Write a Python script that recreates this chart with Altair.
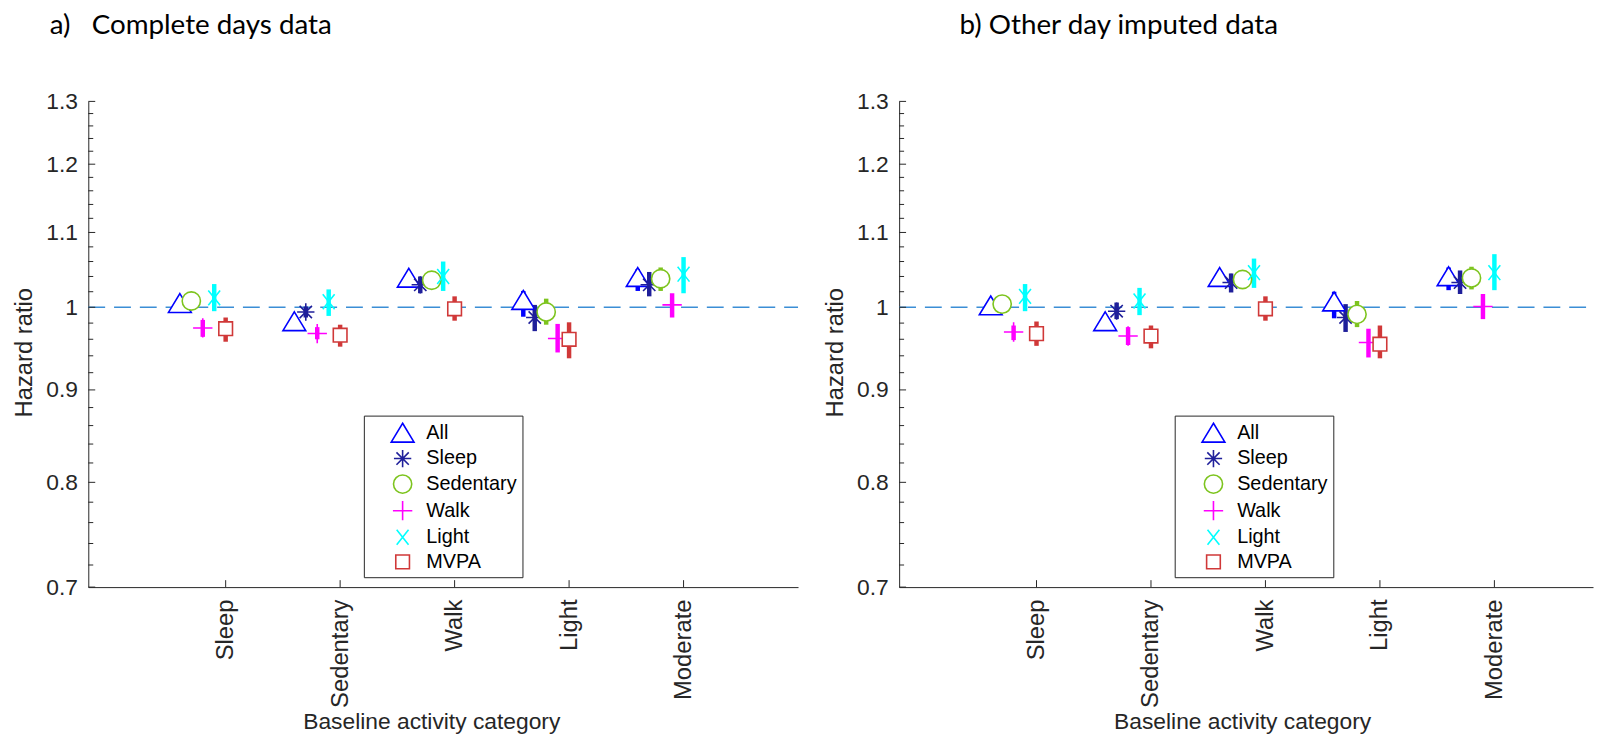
import json
import altair as alt
import pandas as pd

# ---------------- data ----------------
GROUPS = ["Sleep", "Sedentary", "Walk", "Light", "Moderate"]
ACTIVITIES = ["All", "Sleep", "Sedentary", "Walk", "Light", "MVPA"]

# a) Complete days data : hazard ratio and CI per activity for each baseline group
A_HR = {
    "All":       [1.005, 0.982, 1.038, 1.009, 1.039],
    "Sleep":     [None, 0.994, 1.029, 0.987, 1.029],
    "Sedentary": [1.008, None, 1.035, 0.994, 1.037],
    "Walk":      [0.974, 0.967, None, 0.961, 1.003],
    "Light":     [1.012, 1.007, 1.040, None, 1.043],
    "MVPA":      [0.973, 0.965, 0.998, 0.960, None],
}
A_LO = {
    "All":       [0.999, 0.976, 1.032, 0.988, 1.021],
    "Sleep":     [None, 0.987, 1.018, 0.970, 1.014],
    "Sedentary": [1.000, None, 1.027, 0.978, 1.021],
    "Walk":      [0.963, 0.960, None, 0.944, 0.987],
    "Light":     [0.995, 0.989, 1.021, None, 1.018],
    "MVPA":      [0.957, 0.951, 0.983, 0.937, None],
}
A_HI = {
    "All":       [1.011, 0.988, 1.044, 1.021, 1.050],
    "Sleep":     [None, 1.001, 1.040, 1.003, 1.046],
    "Sedentary": [1.016, None, 1.044, 1.011, 1.052],
    "Walk":      [0.984, 0.975, None, 0.979, 1.018],
    "Light":     [1.030, 1.023, 1.060, None, 1.066],
    "MVPA":      [0.987, 0.978, 1.014, 0.981, None],
}

# b) Other day imputed data
B_HR = {
    "All":       [1.002, 0.982, 1.039, 1.007, 1.040],
    "Sleep":     [None, 0.995, 1.032, 0.987, 1.032],
    "Sedentary": [1.004, None, 1.036, 0.991, 1.038],
    "Walk":      [0.969, 0.964, None, 0.956, 1.001],
    "Light":     [1.014, 1.008, 1.045, None, 1.045],
    "MVPA":      [0.967, 0.964, 0.998, 0.954, None],
}
B_LO = {
    "All":       [0.996, 0.976, 1.033, 0.986, 1.022],
    "Sleep":     [None, 0.985, 1.019, 0.969, 1.017],
    "Sedentary": [0.996, None, 1.028, 0.975, 1.023],
    "Walk":      [0.959, 0.953, None, 0.938, 0.985],
    "Light":     [0.995, 0.990, 1.025, None, 1.022],
    "MVPA":      [0.952, 0.949, 0.983, 0.937, None],
}
B_HI = {
    "All":       [1.008, 0.988, 1.045, 1.020, 1.052],
    "Sleep":     [None, 1.006, 1.044, 1.004, 1.048],
    "Sedentary": [1.013, None, 1.044, 1.008, 1.053],
    "Walk":      [0.977, 0.975, None, 0.973, 1.017],
    "Light":     [1.030, 1.025, 1.064, None, 1.070],
    "MVPA":      [0.982, 0.977, 1.014, 0.977, None],
}

Y_MAJOR = [0.7, 0.8, 0.9, 1.0, 1.1, 1.2, 1.3]
Y_MINOR = [0.72, 0.74, 0.76, 0.78, 0.82, 0.84, 0.86, 0.88, 0.92, 0.94, 0.96, 0.98,
           1.02, 1.04, 1.06, 1.08, 1.12, 1.14, 1.16, 1.18, 1.22, 1.24, 1.26, 1.28]
REF_LINE = [1.0]

TITLE_A = "a)\u00a0\u00a0\u00a0Complete days data"
TITLE_B = "b) Other day imputed data"
X_TITLE = "Baseline activity category"
Y_TITLE = "Hazard ratio"

# ---------------- style ----------------
COLORS = ["#0000FF", "#1F1F9A", "#7DC41E", "#FF00FF", "#00FFFF", "#D03838"]
SHAPES = [
    "M0,-0.85L1,0.8L-1,0.8Z",
    "M-0.76,0L0.76,0M0,-0.76L0,0.76M-0.54,-0.54L0.54,0.54M-0.54,0.54L0.54,-0.54",
    "M0.8,0A0.8,0.8 0 1,1 -0.8,0A0.8,0.8 0 1,1 0.8,0Z",
    "M-0.85,0L0.85,0M0,-0.85L0,0.85",
    "M-0.52,-0.65L0.52,0.65M-0.52,0.65L0.52,-0.65",
    "M-0.6,-0.6L0.6,-0.6L0.6,0.6L-0.6,0.6Z",
]
SYM_SIZE = 529
AX = "#262626"
FONT = "Liberation Sans"
TFONT = "Lato"
H = 490
UNIT_PX = 716 / 6.2
SLOT_STEP = 0.1
XMIN = -0.2


def build(hr, lo, hi):
    rows = []
    for g, grp in enumerate(GROUPS):
        present = [a for a in ACTIVITIES if hr[a][g] is not None]
        n = len(present)
        for s, a in enumerate(present):
            rows.append({
                "group": grp,
                "activity": a,
                "x": (g + 1) + SLOT_STEP * (s - (n - 1)),
                "hr": hr[a][g],
                "lo": lo[a][g],
                "hi": hi[a][g],
            })
    return pd.DataFrame(rows)


TICK_POS = list(range(1, len(GROUPS) + 1))
LABEL_EXPR = json.dumps(GROUPS) + "[datum.value - 1]"


def panel(hr, lo, hi, title_text, title_dx, width):
    df = build(hr, lo, hi)
    xs = alt.Scale(domain=[XMIN, XMIN + width / UNIT_PX], nice=False, zero=False)
    ys = alt.Scale(type="log", domain=[Y_MAJOR[0], Y_MAJOR[-1]], nice=False, zero=False)
    cscale = alt.Scale(domain=ACTIVITIES, range=COLORS)
    sscale = alt.Scale(domain=ACTIVITIES, range=SHAPES)
    xaxis = alt.Axis(values=TICK_POS, labelExpr=LABEL_EXPR, labelAngle=270,
                     labelAlign="right", labelBaseline="middle", labelPadding=12,
                     ticks=False, grid=False, domainColor=AX, domainWidth=1,
                     labelColor=AX, labelFont=FONT, labelFontSize=24,
                     title=X_TITLE, titleFont=FONT, titleFontSize=23,
                     titleFontWeight="normal", titleColor=AX, titleX=346, titleY=143,
                     titleBaseline="alphabetic", titleAlign="center")
    yaxis = alt.Axis(values=Y_MAJOR, format="~g", ticks=False, grid=False,
                     labelPadding=11, domainColor=AX, domainWidth=1, labelColor=AX,
                     labelFont=FONT, labelFontSize=23, title=Y_TITLE, titleFont=FONT,
                     titleFontSize=24, titleFontWeight="normal", titleColor=AX,
                     titleX=-57, titleY=H / 2 + 8, titleAngle=270,
                     titleBaseline="alphabetic", titleAlign="center")

    ref = alt.Chart(pd.DataFrame({"v": REF_LINE})).mark_rule(
        color="#3B8ED5", strokeWidth=1.3, strokeDash=[17, 9]).encode(
        y=alt.Y("v:Q", scale=ys, axis=yaxis),
        x=alt.value(0), x2=alt.value(width))
    ymaj = alt.Chart(pd.DataFrame({"t": Y_MAJOR})).mark_rule(
        color=AX, strokeWidth=1).encode(
        y=alt.Y("t:Q", scale=ys, axis=yaxis), x=alt.value(0), x2=alt.value(7))
    ymin = alt.Chart(pd.DataFrame({"t": Y_MINOR})).mark_rule(
        color=AX, strokeWidth=1).encode(
        y=alt.Y("t:Q", scale=ys, axis=yaxis), x=alt.value(0), x2=alt.value(5))
    xt = alt.Chart(pd.DataFrame({"t": TICK_POS})).mark_rule(
        color=AX, strokeWidth=1).encode(
        x=alt.X("t:Q", scale=xs, axis=xaxis), y=alt.value(H), y2=alt.value(H - 7))

    leg = alt.Legend(orient="none", legendX=278, legendY=317, title=None,
                     symbolSize=SYM_SIZE, symbolStrokeWidth=1.6,
                     symbolFillColor="white", labelFont=FONT, labelFontSize=20,
                     labelColor="black", padding=5, rowPadding=0.8,
                     symbolOffset=21.6, labelOffset=11.4, strokeColor=AX,
                     fillColor="white",
                     labelExpr="datum.label + '\u00a0\u00a0\u00a0\u00a0'")

    bars = alt.Chart(df).mark_rule(strokeWidth=4.5, strokeCap="butt").encode(
        x=alt.X("x:Q", scale=xs, axis=xaxis),
        y=alt.Y("lo:Q", scale=ys, axis=yaxis),
        y2="hi:Q",
        color=alt.Color("activity:N", scale=cscale, legend=leg))

    points = alt.Chart(df).mark_point(filled=False, strokeWidth=1.6, size=SYM_SIZE,
                                      opacity=1).encode(
        x=alt.X("x:Q", scale=xs, axis=xaxis),
        y=alt.Y("hr:Q", scale=ys, axis=yaxis),
        shape=alt.Shape("activity:N", scale=sscale, legend=leg),
        color=alt.Color("activity:N", scale=cscale, legend=leg),
        fill=alt.value("white"))

    return alt.layer(ref, ymaj, ymin, xt, bars, points).properties(
        width=width, height=H,
        title=alt.TitleParams(text=title_text, anchor="start", dx=title_dx,
                              font=TFONT, fontSize=28, fontWeight="normal",
                              color="black", offset=51, frame="group"))


left = panel(A_HR, A_LO, A_HI, TITLE_A, -39, 716)
right = panel(B_HR, B_LO, B_HI, TITLE_B, 61, 700)

chart = alt.hconcat(left, right, spacing=25).resolve_scale(
    color="independent", shape="independent").resolve_legend(
    color="independent", shape="independent").properties(
    padding={"left": 5, "top": 1, "right": 0, "bottom": 0},
    background="white").configure_view(stroke=None)

chart.save("out.html", embed_options={"renderer": "svg", "actions": False})
